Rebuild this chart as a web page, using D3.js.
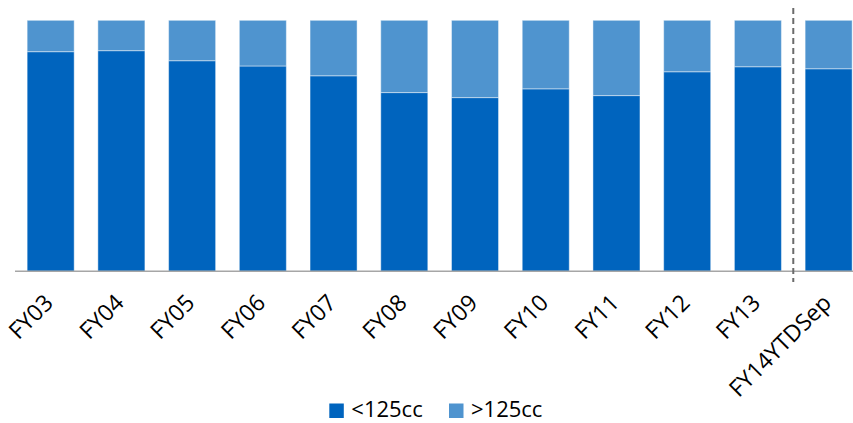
<!DOCTYPE html>
<html>
<head>
<meta charset="utf-8">
<script src="https://cdn.jsdelivr.net/npm/d3@7"></script>
<style>
  body { margin: 0; background: #fff; }
  svg { display: block; font-family: "Open Sans", sans-serif; }
</style>
</head>
<body>
<svg id="chart" width="853" height="423"></svg>
<script>
// categorias y porcentajes
const years = ["FY03", "FY04", "FY05", "FY06", "FY07", "FY08", "FY09", "FY10", "FY11", "FY12", "FY13", "FY14YTDSep"];
const under125 = [87.5, 87.9, 83.9, 81.8, 77.9, 71.2, 69.2, 72.7, 70.0, 79.5, 81.5, 80.7];
const over125 = under125.map((v) => 100 - v);
const seriesNames = ["<125cc", ">125cc"];
const colors = ["#0064BE", "#4F94CF"];

const svg = d3.select("#chart");
const plotTop = 20.3, plotBottom = 271.3;

const x = d3.scaleBand().domain(years).range([15.3, 864]).paddingInner(0.335).paddingOuter(0.1675);
const y = d3.scaleLinear().domain([0, 100]).range([plotBottom, plotTop]);

const rows = years.map((yr, i) => ({ year: yr, "<125cc": under125[i], ">125cc": over125[i] }));
const stacked = d3.stack().keys(seriesNames)(rows);

svg.append("g")
  .selectAll("g")
  .data(stacked)
  .join("g")
  .attr("fill", (d, i) => colors[i])
  .selectAll("rect")
  .data((d) => d)
  .join("rect")
  .attr("x", (d) => x(d.data.year))
  .attr("width", x.bandwidth())
  .attr("y", (d) => y(d[1]))
  .attr("height", (d) => y(d[0]) - y(d[1]))
  .attr("stroke", "rgba(255,255,255,0.45)")
  .attr("stroke-width", 1);

// eje x
const xAxis = svg.append("g")
  .attr("transform", `translate(0,${plotBottom})`)
  .call(d3.axisBottom(x).tickSize(0).tickPadding(0));
xAxis.select(".domain").remove();
svg.append("line")
  .attr("x1", 15).attr("x2", 853)
  .attr("y1", plotBottom).attr("y2", plotBottom)
  .attr("stroke", "#a6a6a6").attr("stroke-width", 1.5);

xAxis.selectAll(".tick text")
  .attr("font-family", "Open Sans, sans-serif")
  .attr("font-size", "23px")
  .attr("fill", "#000")
  .attr("text-anchor", "end")
  .attr("dy", null)
  .attr("y", 0)
  .attr("transform", "translate(4,33) rotate(-45)");

// linea discontinua entre FY13 y FY14
const sepX = (x("FY13") + x.bandwidth() + x("FY14YTDSep")) / 2;
svg.append("line")
  .attr("x1", sepX).attr("x2", sepX)
  .attr("y1", 8).attr("y2", 282)
  .attr("stroke", "#6b6b6b")
  .attr("stroke-width", 2)
  .attr("stroke-dasharray", "6,4");

// leyenda
const legendX = [329.3, 449];
const legend = svg.append("g");
seriesNames.forEach((name, i) => {
  legend.append("rect")
    .attr("x", legendX[i]).attr("y", 403.5)
    .attr("width", 14.5).attr("height", 14.5)
    .attr("fill", colors[i]);
  legend.append("text")
    .attr("x", legendX[i] + 22).attr("y", 417)
    .attr("font-size", "22px")
    .attr("fill", "#000")
    .text(name);
});
</script>
</body>
</html>
